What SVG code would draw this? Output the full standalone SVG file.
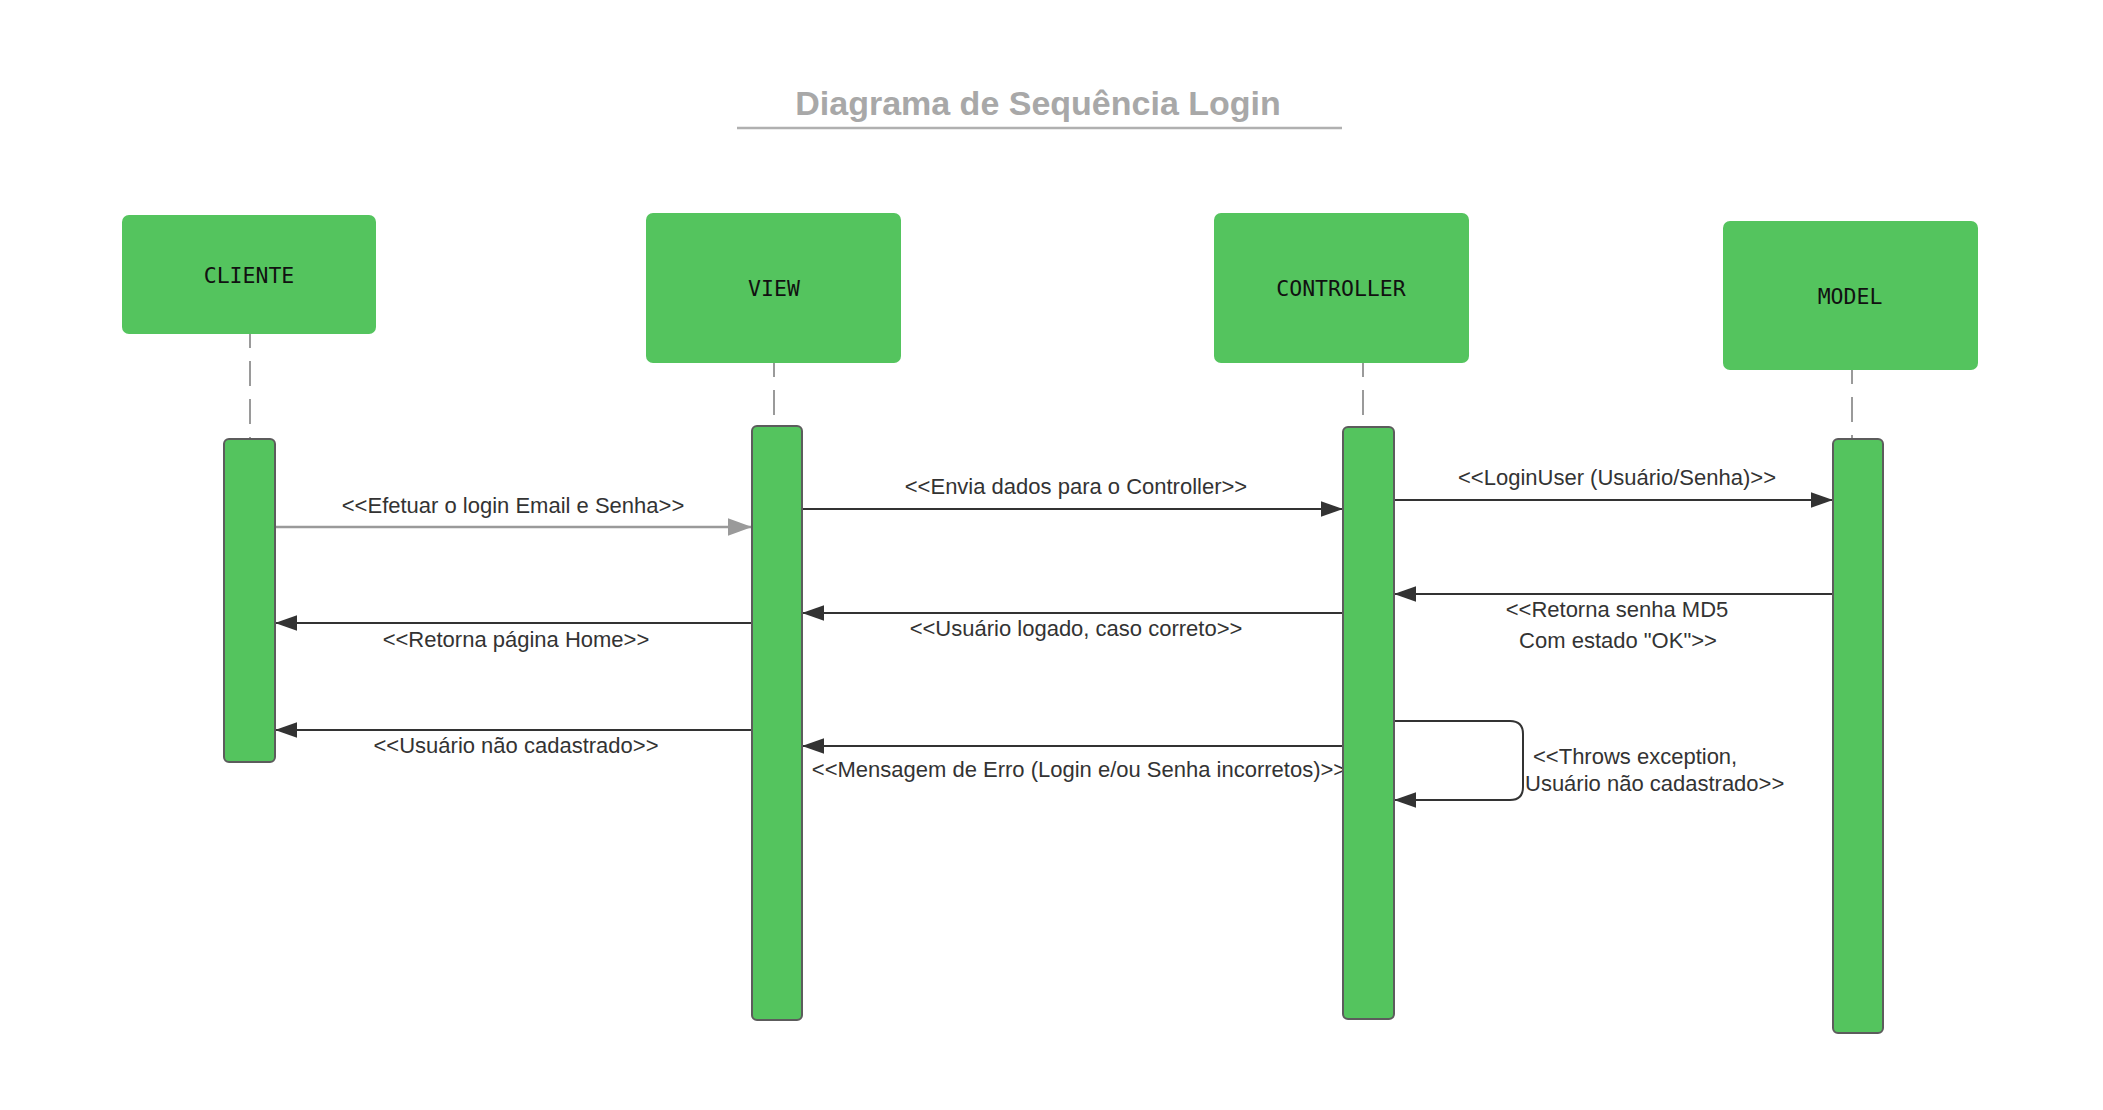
<svg xmlns="http://www.w3.org/2000/svg" width="2103" height="1110" viewBox="0 0 2103 1110">
<style>
.hdr{fill:#54C45E;}
.act{fill:#54C45E;stroke:#5C5C5C;stroke-width:2;}
.hl{font-family:"DejaVu Sans Mono","Liberation Mono",monospace;font-size:21.5px;fill:#111;text-anchor:middle;dominant-baseline:central;}
.life{stroke:#9A9A9A;stroke-width:2;stroke-dasharray:25 13;stroke-dashoffset:11;fill:none;}
.msg{stroke:#333;stroke-width:2;fill:none;marker-end:url(#ah);}
.msgg{stroke:#9A9A9A;stroke-width:2.5;fill:none;marker-end:url(#ahg);}
.lbl{font-family:"Liberation Sans",Arial,sans-serif;font-size:22px;fill:#333;text-anchor:middle;}
.lbll{font-family:"Liberation Sans",Arial,sans-serif;font-size:22px;fill:#333;}
</style>
<defs>
<marker id="ah" markerUnits="userSpaceOnUse" markerWidth="22" markerHeight="16" viewBox="0 0 20 14" refX="20" refY="7" orient="auto">
<path d="M0,0 L20,7 L0,14 Z" fill="#333"/>
</marker>
<marker id="ahg" markerUnits="userSpaceOnUse" markerWidth="24" markerHeight="18" viewBox="0 0 22 16" refX="22" refY="8" orient="auto">
<path d="M0,0 L22,8 L0,16 Z" fill="#9A9A9A"/>
</marker>
</defs>
<rect width="2103" height="1110" fill="#fff"/>
<g id="title">
<text x="1038" y="115" font-family="Liberation Sans,Arial,sans-serif" font-weight="bold" font-size="34" fill="#A8A8A8" text-anchor="middle">Diagrama de Sequência Login</text>
<line x1="737" y1="128" x2="1342" y2="128" stroke="#B0B0B0" stroke-width="2.5"/>
</g>
<g id="lifelines">
<line class="life" x1="250" y1="334" x2="250" y2="439"/>
<line class="life" x1="774" y1="363" x2="774" y2="426"/>
<line class="life" x1="1363" y1="363" x2="1363" y2="427"/>
<line class="life" x1="1852" y1="370" x2="1852" y2="439"/>
</g>
<g id="connectors">
<line class="msgg" x1="275" y1="527" x2="752" y2="527"/>
<text class="lbl" x="513" y="513">&lt;&lt;Efetuar o login Email e Senha&gt;&gt;</text>
<line class="msg" x1="802" y1="509" x2="1343" y2="509"/>
<text class="lbl" x="1076" y="494">&lt;&lt;Envia dados para o Controller&gt;&gt;</text>
<line class="msg" x1="1394" y1="500" x2="1833" y2="500"/>
<text class="lbl" x="1617" y="485">&lt;&lt;LoginUser (Usuário/Senha)&gt;&gt;</text>
<line class="msg" x1="1833" y1="594" x2="1394" y2="594"/>
<text class="lbl" x="1617" y="617">&lt;&lt;Retorna senha MD5</text>
<text class="lbl" x="1618" y="648">Com estado "OK"&gt;&gt;</text>
<line class="msg" x1="1343" y1="613" x2="802" y2="613"/>
<text class="lbl" x="1076" y="636">&lt;&lt;Usuário logado, caso correto&gt;&gt;</text>
<line class="msg" x1="752" y1="623" x2="275" y2="623"/>
<text class="lbl" x="516" y="647">&lt;&lt;Retorna página Home&gt;&gt;</text>
<path class="msg" d="M1394,721 H1510 Q1523,721 1523,734 V787 Q1523,800 1510,800 H1394"/>
<text class="lbll" x="1533" y="764">&lt;&lt;Throws exception,</text>
<text class="lbll" x="1525" y="791">Usuário não cadastrado&gt;&gt;</text>
<line class="msg" x1="752" y1="730" x2="275" y2="730"/>
<text class="lbl" x="516" y="753">&lt;&lt;Usuário não cadastrado&gt;&gt;</text>
<line class="msg" x1="1343" y1="746" x2="802" y2="746"/>
<text class="lbl" x="1079" y="777">&lt;&lt;Mensagem de Erro (Login e/ou Senha incorretos)&gt;&gt;</text>
</g>
<g id="cliente">
<rect class="hdr" x="122" y="215" width="254" height="119" rx="7"/>
<text class="hl" x="249" y="275">CLIENTE</text>
<rect class="act" x="224" y="439" width="51" height="323" rx="5"/>
</g>
<g id="view">
<rect class="hdr" x="646" y="213" width="255" height="150" rx="7"/>
<text class="hl" x="774" y="288">VIEW</text>
<rect class="act" x="752" y="426" width="50" height="594" rx="5"/>
</g>
<g id="controller">
<rect class="hdr" x="1214" y="213" width="255" height="150" rx="7"/>
<text class="hl" x="1341" y="288">CONTROLLER</text>
<rect class="act" x="1343" y="427" width="51" height="592" rx="5"/>
</g>
<g id="model">
<rect class="hdr" x="1723" y="221" width="255" height="149" rx="7"/>
<text class="hl" x="1850" y="296">MODEL</text>
<rect class="act" x="1833" y="439" width="50" height="594" rx="5"/>
</g>
</svg>
